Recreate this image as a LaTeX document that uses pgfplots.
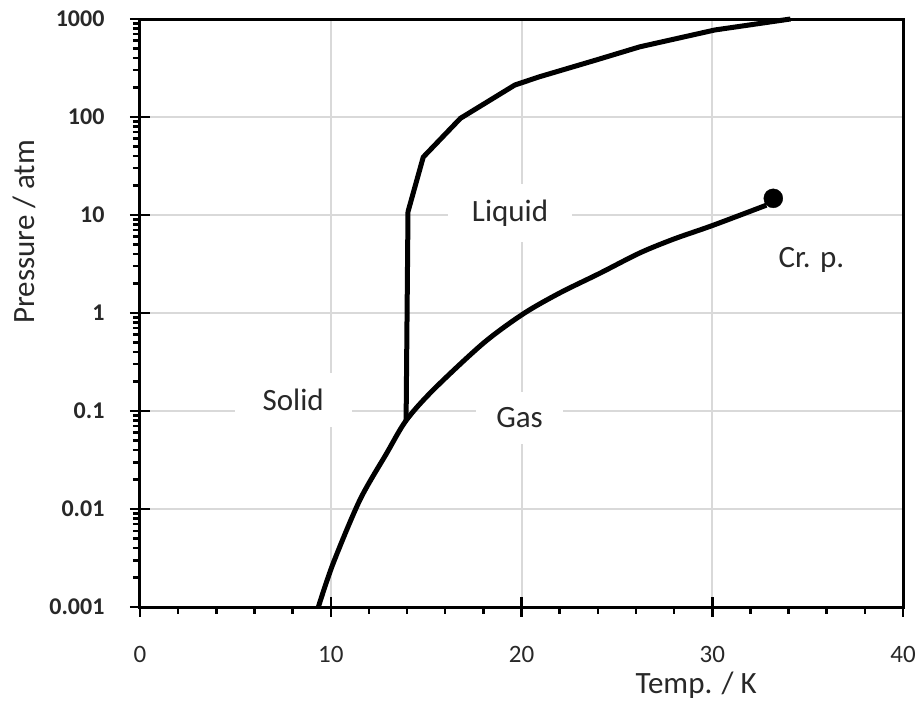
\documentclass[border=0pt]{standalone}
\usepackage{pgfplots}
\pgfplotsset{compat=1.18}
\usepackage{fontspec}
\setmainfont{Carlito}
\definecolor{gridgray}{RGB}{217,217,217}
\definecolor{txt}{RGB}{40,40,40}
\begin{document}
\begin{tikzpicture}
\path[use as bounding box] (-140pt,-95pt) rectangle (780pt,607pt);
\begin{axis}[
  at={(0pt,0pt)}, anchor=south west,
  scale only axis, width=763pt, height=588pt,
  xmin=0, xmax=40, ymode=log, ymin=0.001, ymax=1000,
  xtick={0,10,20,30,40}, xticklabels={0,10,20,30,40},
  minor xtick={2,4,6,8,12,14,16,18,22,24,26,28,32,34,36,38},
  ytick={0.001,0.01,0.1,1,10,100,1000},
  yticklabels={0.001,0.01,0.1,1,10,100,1000},
  minor ytick={0.002,0.003,0.004,0.005,0.006,0.007,0.008,0.009,
    0.02,0.03,0.04,0.05,0.06,0.07,0.08,0.09,
    0.2,0.3,0.4,0.5,0.6,0.7,0.8,0.9,
    2,3,4,5,6,7,8,9,20,30,40,50,60,70,80,90,
    200,300,400,500,600,700,800,900},
  xtick pos=bottom, ytick pos=left,
  tick align=center, major tick length=20pt, minor tick length=7pt,
  tick style={line width=2.5pt, black},
  minor x tick style={yshift=-3.5pt},
  minor y tick style={xshift=-3.5pt},
  grid=major, major grid style={line width=2pt, gridgray},
  axis line style={line width=3pt, black},
  xticklabel style={font=\fontsize{25}{25}\selectfont, text=txt, anchor=center, yshift=-38pt},
  yticklabel style={font=\fontsize{24}{24}\selectfont\bfseries, text=txt, anchor=east, xshift=-22pt},
  xlabel={Temp. / K},
  xlabel style={at={(axis description cs:0.729,-0.1327)}, anchor=center, font=\fontsize{31}{31}\selectfont, text=txt},
  ylabel={Pressure / atm},
  ylabel style={at={(axis description cs:-0.152,0.638)}, anchor=center, font=\fontsize{31}{31}\selectfont, text=txt},
  clip=false,
]
\addplot[line width=5pt, black, line join=round] coordinates {
  (13.95,0.08) (14.05,10.8) (14.85,39) (16.8,97) (19.65,212) (20.96,258) (23.9,381)
  (26.2,520) (30.14,773) (34.1,1000)
};
\addplot[line width=5pt, black, line join=round, smooth, tension=0.5] coordinates {
  (9.35,0.001) (10.13,0.0028) (11.53,0.0124) (12.93,0.037) (13.95,0.08) (15.37,0.164)
  (17.99,0.49) (20.09,0.98) (22.0,1.6) (24.1,2.54) (26.2,4.1) (28.0,5.7) (30.0,7.8) (32.84,12.6)
};
\addplot[only marks, mark=*, mark size=9.5pt, black] coordinates {(33.2,14.8)};
\node[fill=white, inner xsep=28pt, inner ysep=16pt, font=\fontsize{31}{31}\selectfont, text=txt] at (axis cs:8.03,0.13) {Solid};
\node[fill=white, inner xsep=24pt, inner ysep=16pt, font=\fontsize{31}{31}\selectfont, text=txt] at (axis cs:19.4,10.5) {Liquid};
\node[fill=white, inner xsep=20pt, inner ysep=16pt, font=\fontsize{31}{31}\selectfont, text=txt] at (axis cs:19.9,0.085) {Gas};
\node[font=\fontsize{31}{31}\selectfont, text=txt] at (axis cs:35.2,3.5) {Cr. p.};
\end{axis}
\end{tikzpicture}
\end{document}
